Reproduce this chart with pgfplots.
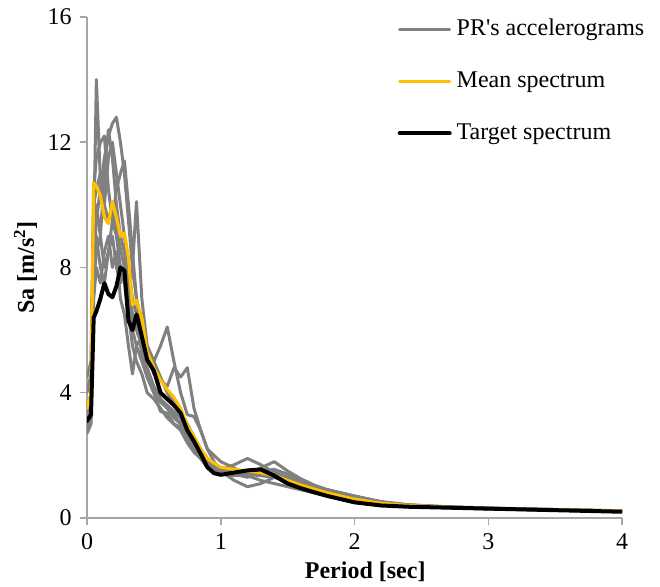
\documentclass[border=0pt]{standalone}
\usepackage{fontspec}
\setmainfont{Liberation Serif}
\usepackage{pgfplots}
\usepackage{pgfplotstable}
\pgfplotsset{compat=1.18}
\definecolor{grayc}{HTML}{808080}
\definecolor{meanc}{HTML}{FFC000}
\definecolor{axc}{HTML}{A6A6A6}

\pgfplotstableread{
x      g1    g2    g3    g4    g5    g6    g7    g8    mean  target
0.00   2.8   3.0   3.3   4.5   2.7   3.2   3.0   4.0   3.5   3.1
0.03   3.2   3.5   4.0   5.0   3.0   3.6   3.3   4.6   4.0   3.3
0.05   9.0   8.0   9.5   10.5  7.5   8.5   7.0   10.0  10.7  6.4
0.07   14.0  9.5   10.0  11.5  8.5   9.0   8.0   10.5  10.6  6.6
0.10   10.8  10.5  9.0   12.0  9.0   8.0   7.5   11.0  10.3  7.0
0.13   10.0  11.5  11.0  12.2  8.0   7.5   8.5   10.0  9.6   7.5
0.16   9.5   12.2  12.4  10.5  8.5   8.5   9.0   11.5  9.4   7.15
0.19   10.0  12.6  11.5  9.5   9.5   9.0   8.0   12.0  10.1  7.05
0.22   9.2   12.8  10.0  9.0   10.5  8.0   8.5   11.0  9.6   7.4
0.25   8.6   12.0  9.0   8.0   11.0  7.5   7.0   10.0  9.0   8.0
0.28   8.0   11.0  8.5   7.5   11.4  8.0   6.5   9.0   9.1   7.9
0.31   7.0   9.5   7.5   6.5   10.0  7.0   5.5   8.0   8.3   6.3
0.34   6.0   8.0   6.5   5.5   8.5   8.0   4.6   7.0   6.8   6.0
0.37   5.5   7.0   6.0   5.0   7.0   10.1  5.5   6.5   6.95  6.5
0.41   5.0   6.2   5.5   4.6   6.0   7.0   5.8   5.2   6.4   5.8
0.45   4.5   5.5   4.8   4.0   5.2   5.5   4.5   4.5   5.3   5.05
0.50   4.2   5.0   4.2   3.8   4.6   5.0   4.0   4.0   4.8   4.7
0.55   3.8   4.5   3.8   3.5   4.4   5.5   3.4   3.7   4.4   4.0
0.60   3.5   4.0   3.6   3.2   4.2   6.1   3.35  3.5   4.1   3.8
0.65   3.3   3.7   3.4   3.0   4.8   5.0   3.0   3.2   3.85  3.6
0.70   3.0   3.4   3.2   2.8   4.5   4.0   2.9   3.0   3.5   3.35
0.75   2.6   3.0   2.6   2.4   4.8   3.3   2.5   2.5   2.95  2.8
0.80   2.3   2.6   2.2   2.1   3.5   3.24  2.2   2.3   2.6   2.45
0.85   2.0   2.2   1.9   1.9   2.8   2.8   2.1   2.0   2.2   2.05
0.90   1.8   1.9   1.7   1.6   2.2   2.2   1.8   1.75  1.9   1.62
0.95   1.6   1.7   1.6   1.5   2.0   1.8   1.7   1.6   1.75  1.43
1.00   1.5   1.55  1.55  1.4   1.8   1.5   1.6   1.45  1.62  1.38
1.10   1.4   1.4   1.7   1.35  1.6   1.2   1.5   1.45  1.55  1.45
1.20   1.45  1.3   1.9   1.4   1.35  1.0   1.4   1.5   1.5   1.52
1.30   1.5   1.5   1.7   1.6   1.2   1.1   1.35  1.5   1.45  1.55
1.40   1.4   1.55  1.45  1.8   1.1   1.3   1.3   1.45  1.35  1.35
1.50   1.2   1.4   1.25  1.5   1.0   1.3   1.15  1.3   1.2   1.1
1.60   1.05  1.2   1.1   1.25  0.9   1.15  1.0   1.15  1.05  0.95
1.70   0.9   1.0   0.95  1.05  0.8   1.0   0.88  1.0   0.92  0.82
1.80   0.8   0.85  0.85  0.9   0.7   0.9   0.78  0.9   0.8   0.7
2.00   0.6   0.62  0.65  0.7   0.55  0.7   0.6   0.7   0.6   0.5
2.20   0.45  0.48  0.5   0.52  0.45  0.5   0.46  0.52  0.47  0.4
2.40   0.38  0.4   0.42  0.42  0.38  0.4   0.38  0.42  0.4   0.36
2.70   0.33  0.35  0.35  0.35  0.33  0.34  0.33  0.36  0.34  0.33
3.00   0.3   0.31  0.31  0.3   0.29  0.3   0.29  0.32  0.3   0.3
3.50   0.26  0.27  0.27  0.26  0.25  0.26  0.25  0.27  0.26  0.25
4.00   0.22  0.23  0.22  0.21  0.21  0.22  0.21  0.23  0.22  0.2
}\datatable

\begin{document}
\fontsize{12bp}{14bp}\selectfont
\begin{tikzpicture}[font=\fontsize{12bp}{14bp}\selectfont]
\useasboundingbox (-43.5bp,-34.5bp) rectangle (286.5bp,259bp);
\begin{axis}[
  scale only axis, width=267.5bp, height=250.5bp,
  at={(0,0)}, anchor=south west,
  xmin=0, xmax=4, ymin=0, ymax=16,
  xtick={0,1,2,3,4}, ytick={0,4,8,12,16},
  axis x line=bottom, axis y line=left,
  axis line style={-, draw=axc, line width=0.75bp},
  tick style={draw=axc, line width=0.75bp},
  tick align=outside, major tick length=3.5bp,
  /pgf/number format/assume math mode=true,
  ticklabel style={font=\fontsize{12bp}{14bp}\selectfont},
  xlabel={\textbf{Period [sec]}},
  ylabel={\textbf{Sa [m/s\textsuperscript{2}]}},
  every axis x label/.style={at={(axis description cs:0.52,-0.108)}, anchor=center},
  every axis y label/.style={at={(axis description cs:-0.115,0.5)}, rotate=90, anchor=center},
  legend cell align=left,
  legend image code/.code={\draw[#1] (0bp,0bp) -- (25bp,0bp);},
  legend style={draw=none, fill=none, anchor=north west,
    at={(axis description cs:0.58,1.0)},
    inner xsep=0pt, inner ysep=0pt, row sep=14bp, column sep=2.5bp,
    nodes={inner sep=0pt, text height=9bp, text depth=3bp},
    font=\fontsize{12bp}{14bp}\selectfont},
  every axis plot/.append style={line join=round, line cap=round},
]
\addplot[grayc, line width=1.5bp] table[x=x, y=g1] {\datatable};
\addlegendentry{PR\textquotesingle s accelerograms}
\addplot[grayc, line width=1.5bp, forget plot] table[x=x, y=g2] {\datatable};
\addplot[grayc, line width=1.5bp, forget plot] table[x=x, y=g3] {\datatable};
\addplot[grayc, line width=1.5bp, forget plot] table[x=x, y=g4] {\datatable};
\addplot[grayc, line width=1.5bp, forget plot] table[x=x, y=g5] {\datatable};
\addplot[grayc, line width=1.5bp, forget plot] table[x=x, y=g6] {\datatable};
\addplot[grayc, line width=1.5bp, forget plot] table[x=x, y=g7] {\datatable};
\addplot[grayc, line width=1.5bp, forget plot] table[x=x, y=g8] {\datatable};
\addplot[meanc, line width=1.6bp] table[x=x, y=mean] {\datatable};
\addlegendentry{Mean spectrum}
\addplot[black, line width=2bp] table[x=x, y=target] {\datatable};
\addlegendentry{Target spectrum}
\end{axis}
\end{tikzpicture}
\end{document}
